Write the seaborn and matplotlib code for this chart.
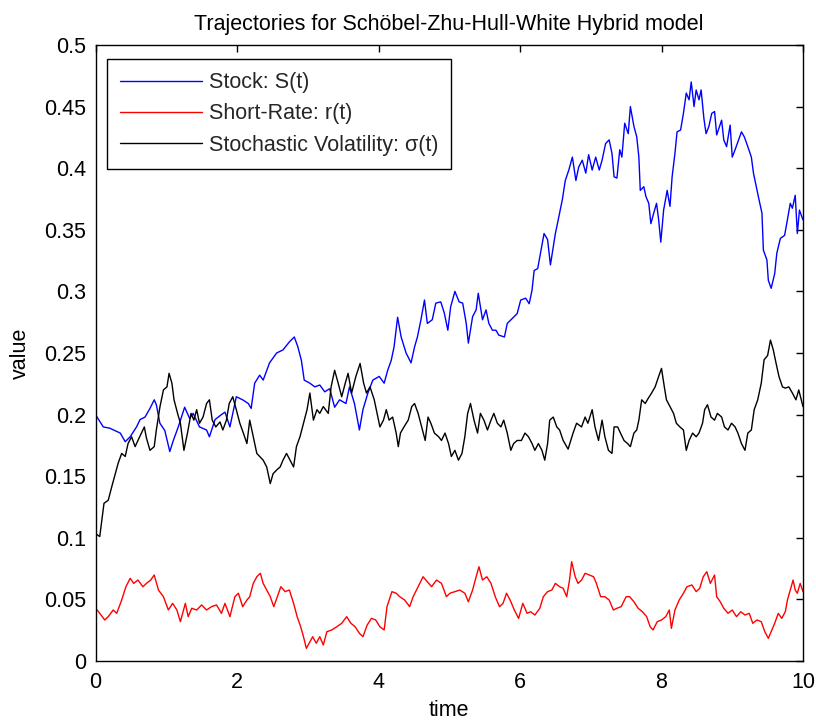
import numpy as np
import pandas as pd
import seaborn as sns
import matplotlib
matplotlib.use('Agg')
import matplotlib.pyplot as plt

# values
t_stock = [0.00, 0.11, 0.20, 0.35, 0.42, 0.49, 0.58, 0.63, 0.70, 0.77, 0.83, 0.86, 0.91, 0.98,
           1.05, 1.10, 1.17, 1.26, 1.33, 1.38, 1.47, 1.57, 1.61, 1.69, 1.78, 1.83, 1.90, 1.99,
           2.08, 2.16, 2.20, 2.25, 2.32, 2.37, 2.46, 2.56, 2.65, 2.74, 2.81, 2.86, 2.91, 2.95,
           3.03, 3.10, 3.17, 3.24, 3.31, 3.38, 3.45, 3.54, 3.59, 3.66, 3.73, 3.78, 3.85, 3.92,
           4.01, 4.08, 4.13, 4.18, 4.22, 4.27, 4.32, 4.39, 4.46, 4.51, 4.55, 4.60, 4.65, 4.69,
           4.76, 4.81, 4.88, 4.93, 4.98, 5.02, 5.08, 5.14, 5.19, 5.24, 5.27, 5.33, 5.38, 5.41,
           5.47, 5.52, 5.56, 5.61, 5.66, 5.70, 5.78, 5.82, 5.89, 5.96, 6.01, 6.08, 6.13, 6.17,
           6.20, 6.25, 6.29, 6.34, 6.39, 6.43, 6.47, 6.50, 6.54, 6.60, 6.64, 6.69, 6.74, 6.79,
           6.83, 6.88, 6.93, 6.97, 7.02, 7.07, 7.12, 7.16, 7.21, 7.26, 7.30, 7.33, 7.37, 7.41,
           7.44, 7.48, 7.53, 7.56, 7.61, 7.65, 7.68, 7.70, 7.75, 7.78, 7.82, 7.85, 7.89, 7.93,
           7.96, 7.99, 8.03, 8.08, 8.12, 8.15, 8.19, 8.22, 8.27, 8.31, 8.35, 8.39, 8.42, 8.46,
           8.49, 8.53, 8.56, 8.60, 8.63, 8.67, 8.71, 8.75, 8.78, 8.82, 8.85, 8.88, 8.92, 8.97,
           9.00, 9.04, 9.09, 9.13, 9.17, 9.22, 9.27, 9.30, 9.35, 9.38, 9.42, 9.44, 9.49, 9.51,
           9.55, 9.60, 9.63, 9.68, 9.74, 9.77, 9.82, 9.85, 9.89, 9.92, 9.95, 10.00]
stock = [0.200, 0.190, 0.189, 0.185, 0.178, 0.182, 0.190, 0.196, 0.198, 0.205, 0.212, 0.208, 0.193, 0.187,
         0.170, 0.179, 0.190, 0.206, 0.197, 0.201, 0.190, 0.1875, 0.182, 0.196, 0.200, 0.202, 0.190, 0.2145,
         0.212, 0.209, 0.205, 0.2255, 0.232, 0.228, 0.242, 0.250, 0.2525, 0.259, 0.263, 0.255, 0.244, 0.228,
         0.2255, 0.2225, 0.224, 0.2185, 0.221, 0.206, 0.212, 0.209, 0.2225, 0.209, 0.1875, 0.204, 0.2175, 0.228,
         0.231, 0.2255, 0.236, 0.244, 0.255, 0.279, 0.263, 0.250, 0.242, 0.255, 0.263, 0.277, 0.293, 0.274,
         0.277, 0.2905, 0.2915, 0.2825, 0.2685, 0.2875, 0.300, 0.2915, 0.2905, 0.274, 0.258, 0.2795, 0.285, 0.2985,
         0.277, 0.285, 0.274, 0.2685, 0.2685, 0.2645, 0.263, 0.274, 0.278, 0.282, 0.293, 0.2945, 0.290, 0.301,
         0.317, 0.3185, 0.331, 0.347, 0.342, 0.3215, 0.336, 0.347, 0.358, 0.375, 0.390, 0.3985, 0.409, 0.390,
         0.401, 0.4065, 0.396, 0.411, 0.3985, 0.409, 0.3985, 0.4065, 0.420, 0.423, 0.412, 0.393, 0.392, 0.415,
         0.409, 0.4365, 0.428, 0.450, 0.434, 0.4255, 0.409, 0.382, 0.385, 0.377, 0.3715, 0.355, 0.3635, 0.3715,
         0.358, 0.340, 0.366, 0.382, 0.369, 0.393, 0.412, 0.4295, 0.431, 0.4445, 0.461, 0.4555, 0.470, 0.450,
         0.4635, 0.4555, 0.4635, 0.440, 0.428, 0.434, 0.4445, 0.446, 0.427, 0.434, 0.439, 0.423, 0.4175, 0.435,
         0.409, 0.415, 0.423, 0.4295, 0.4255, 0.4175, 0.409, 0.396, 0.382, 0.374, 0.3635, 0.3335, 0.3255, 0.309,
         0.3025, 0.3145, 0.331, 0.343, 0.3455, 0.355, 0.3715, 0.3675, 0.378, 0.347, 0.366, 0.358]

t_rate = [0.00, 0.06, 0.13, 0.18, 0.25, 0.30, 0.37, 0.43, 0.49, 0.54, 0.60, 0.67, 0.72, 0.78, 0.83,
          0.89, 0.96, 1.03, 1.09, 1.15, 1.20, 1.27, 1.31, 1.36, 1.43, 1.50, 1.57, 1.64, 1.71, 1.78,
          1.83, 1.90, 1.97, 2.02, 2.08, 2.14, 2.18, 2.23, 2.28, 2.33, 2.37, 2.42, 2.47, 2.52, 2.57,
          2.62, 2.68, 2.74, 2.80, 2.85, 2.90, 2.94, 2.98, 3.02, 3.07, 3.12, 3.17, 3.22, 3.27, 3.34,
          3.41, 3.48, 3.55, 3.61, 3.67, 3.73, 3.78, 3.84, 3.90, 3.96, 4.02, 4.08, 4.12, 4.19, 4.25,
          4.30, 4.37, 4.44, 4.49, 4.56, 4.63, 4.69, 4.75, 4.82, 4.89, 4.96, 5.01, 5.08, 5.15, 5.22,
          5.27, 5.33, 5.38, 5.42, 5.47, 5.53, 5.59, 5.65, 5.71, 5.76, 5.81, 5.86, 5.92, 5.98, 6.04,
          6.10, 6.15, 6.21, 6.28, 6.33, 6.39, 6.45, 6.50, 6.56, 6.61, 6.66, 6.70, 6.73, 6.78, 6.82,
          6.87, 6.92, 6.98, 7.04, 7.08, 7.14, 7.20, 7.26, 7.32, 7.37, 7.43, 7.50, 7.55, 7.61, 7.67,
          7.73, 7.79, 7.84, 7.88, 7.94, 8.00, 8.06, 8.11, 8.14, 8.19, 8.25, 8.31, 8.36, 8.43, 8.49,
          8.54, 8.59, 8.64, 8.69, 8.75, 8.78, 8.83, 8.88, 8.94, 9.00, 9.06, 9.12, 9.18, 9.24, 9.29,
          9.35, 9.41, 9.46, 9.51, 9.56, 9.60, 9.65, 9.70, 9.75, 9.78, 9.82, 9.86, 9.89, 9.92, 9.96,
          10.00]
rate = [0.043, 0.0387, 0.0333, 0.036, 0.0414, 0.0387, 0.0495, 0.0603, 0.0671, 0.063, 0.0657, 0.0603, 0.063, 0.0657, 0.0698,
        0.0576, 0.0522, 0.0414, 0.0468, 0.0414, 0.0319, 0.0468, 0.036, 0.0428, 0.0414, 0.0455, 0.0414, 0.0441, 0.0455, 0.0387,
        0.0468, 0.036, 0.0522, 0.055, 0.0441, 0.0495, 0.0522, 0.063, 0.0684, 0.0712, 0.063, 0.0576, 0.0522, 0.0441, 0.0522,
        0.0603, 0.0563, 0.0576, 0.0468, 0.036, 0.0278, 0.0197, 0.0103, 0.0144, 0.0197, 0.0144, 0.0197, 0.013, 0.0238, 0.0252,
        0.0278, 0.0306, 0.036, 0.0306, 0.0278, 0.0225, 0.0197, 0.0292, 0.0346, 0.0333, 0.0278, 0.0252, 0.0441, 0.0563, 0.055,
        0.0522, 0.0495, 0.0441, 0.0522, 0.0603, 0.0684, 0.0644, 0.0603, 0.0657, 0.063, 0.0522, 0.055, 0.0563, 0.0576, 0.055,
        0.0481, 0.0576, 0.0684, 0.0765, 0.0657, 0.0684, 0.063, 0.0522, 0.0441, 0.0468, 0.055, 0.0495, 0.0414, 0.0346, 0.0468,
        0.0387, 0.040, 0.0373, 0.0428, 0.0522, 0.0563, 0.0576, 0.063, 0.0603, 0.059, 0.0522, 0.0657, 0.0806, 0.0684, 0.063,
        0.0657, 0.0712, 0.0698, 0.0684, 0.063, 0.0522, 0.0522, 0.0495, 0.0414, 0.0428, 0.0441, 0.0522, 0.0522, 0.0481, 0.0428,
        0.040, 0.036, 0.0278, 0.0252, 0.0319, 0.0333, 0.036, 0.0414, 0.0265, 0.0414, 0.0495, 0.055, 0.0603, 0.0617, 0.0563,
        0.059, 0.0684, 0.0725, 0.063, 0.0698, 0.0522, 0.0481, 0.0428, 0.0387, 0.0414, 0.036, 0.040, 0.0373, 0.0387, 0.0306,
        0.0333, 0.0319, 0.0238, 0.0184, 0.0252, 0.0306, 0.0387, 0.0346, 0.040, 0.0495, 0.0576, 0.0657, 0.0576, 0.055, 0.063,
        0.0563]

t_vol = [0.00, 0.06, 0.09, 0.12, 0.18, 0.23, 0.28, 0.32, 0.37, 0.42, 0.46, 0.51, 0.56, 0.60, 0.65,
         0.69, 0.72, 0.77, 0.83, 0.86, 0.91, 0.96, 1.01, 1.04, 1.08, 1.11, 1.16, 1.20, 1.25, 1.30,
         1.35, 1.39, 1.43, 1.47, 1.52, 1.57, 1.61, 1.65, 1.70, 1.76, 1.80, 1.85, 1.89, 1.94, 1.99,
         2.04, 2.09, 2.14, 2.18, 2.23, 2.28, 2.32, 2.37, 2.42, 2.47, 2.51, 2.56, 2.61, 2.65, 2.70,
         2.75, 2.80, 2.84, 2.89, 2.94, 2.99, 3.03, 3.08, 3.13, 3.17, 3.22, 3.29, 3.33, 3.38, 3.43,
         3.48, 3.53, 3.57, 3.62, 3.68, 3.74, 3.79, 3.83, 3.88, 3.94, 3.98, 4.02, 4.07, 4.11, 4.15,
         4.20, 4.25, 4.28, 4.31, 4.36, 4.42, 4.47, 4.51, 4.56, 4.61, 4.66, 4.70, 4.74, 4.79, 4.85,
         4.89, 4.94, 4.99, 5.03, 5.08, 5.13, 5.18, 5.22, 5.26, 5.30, 5.35, 5.40, 5.44, 5.49, 5.54,
         5.59, 5.63, 5.68, 5.73, 5.77, 5.82, 5.87, 5.91, 5.96, 6.02, 6.07, 6.12, 6.17, 6.21, 6.26,
         6.31, 6.35, 6.39, 6.42, 6.47, 6.52, 6.56, 6.61, 6.68, 6.75, 6.80, 6.87, 6.92, 6.96, 7.02,
         7.06, 7.11, 7.16, 7.20, 7.25, 7.30, 7.33, 7.38, 7.42, 7.47, 7.52, 7.56, 7.61, 7.65, 7.68,
         7.72, 7.77, 7.81, 7.86, 7.91, 7.96, 8.00, 8.04, 8.07, 8.12, 8.17, 8.21, 8.26, 8.31, 8.35,
         8.39, 8.44, 8.49, 8.53, 8.58, 8.61, 8.65, 8.70, 8.75, 8.79, 8.85, 8.89, 8.94, 8.99, 9.04,
         9.08, 9.13, 9.18, 9.22, 9.27, 9.31, 9.36, 9.41, 9.45, 9.50, 9.54, 9.58, 9.62, 9.66, 9.71,
         9.75, 9.80, 9.85, 9.90, 9.94, 10.00]
vol = [0.1035, 0.101, 0.1145, 0.128, 0.1305, 0.1415, 0.152, 0.1605, 0.1685, 0.166, 0.1765, 0.182, 0.174, 0.179, 0.185,
       0.190, 0.181, 0.171, 0.174, 0.1875, 0.206, 0.220, 0.2225, 0.2335, 0.2255, 0.212, 0.201, 0.193, 0.171, 0.185,
       0.201, 0.1955, 0.204, 0.193, 0.198, 0.209, 0.212, 0.1955, 0.190, 0.194, 0.1875, 0.1955, 0.209, 0.2145, 0.204,
       0.193, 0.185, 0.1765, 0.1955, 0.182, 0.1685, 0.166, 0.163, 0.1575, 0.144, 0.152, 0.155, 0.1575, 0.163, 0.1685,
       0.163, 0.1575, 0.174, 0.182, 0.193, 0.204, 0.2175, 0.1955, 0.204, 0.201, 0.2065, 0.201, 0.2225, 0.236, 0.2255,
       0.2145, 0.2255, 0.2335, 0.2175, 0.231, 0.2415, 0.2255, 0.2175, 0.2225, 0.212, 0.201, 0.190, 0.1955, 0.204, 0.1955,
       0.198, 0.185, 0.174, 0.185, 0.190, 0.1955, 0.2065, 0.209, 0.201, 0.190, 0.179, 0.198, 0.193, 0.185, 0.182,
       0.179, 0.185, 0.1765, 0.166, 0.171, 0.163, 0.1685, 0.182, 0.201, 0.209, 0.1955, 0.185, 0.201, 0.1955, 0.1875,
       0.1955, 0.201, 0.193, 0.190, 0.1955, 0.185, 0.171, 0.1765, 0.179, 0.179, 0.185, 0.182, 0.1765, 0.171, 0.1765,
       0.171, 0.163, 0.1765, 0.1955, 0.198, 0.190, 0.1875, 0.179, 0.172, 0.185, 0.193, 0.190, 0.198, 0.193, 0.204,
       0.190, 0.179, 0.1955, 0.182, 0.171, 0.1685, 0.190, 0.190, 0.185, 0.179, 0.1765, 0.174, 0.185, 0.1875, 0.1955,
       0.212, 0.209, 0.213, 0.2175, 0.2225, 0.231, 0.2375, 0.2225, 0.212, 0.2065, 0.201, 0.193, 0.190, 0.1875, 0.171,
       0.179, 0.185, 0.182, 0.185, 0.193, 0.204, 0.208, 0.198, 0.1955, 0.201, 0.198, 0.190, 0.1875, 0.193, 0.190,
       0.185, 0.1765, 0.171, 0.185, 0.1875, 0.204, 0.212, 0.2255, 0.2445, 0.248, 0.2605, 0.2525, 0.2415, 0.231, 0.2225,
       0.2215, 0.2225, 0.2175, 0.212, 0.220, 0.2065]

x_ticks = [0, 2, 4, 6, 8, 10]
y_ticks = [0, 0.05, 0.1, 0.15, 0.2, 0.25, 0.3, 0.35, 0.4, 0.45, 0.5]
y_tick_labels = ['0', '0.05', '0.1', '0.15', '0.2', '0.25', '0.3', '0.35', '0.4', '0.45', '0.5']

FS = 15.5

sns.set_theme(style='white')
plt.rcParams['font.family'] = ['Liberation Sans', 'DejaVu Sans']
plt.rcParams['axes.edgecolor'] = 'black'
plt.rcParams['axes.linewidth'] = 1.0

fig = plt.figure(figsize=(8.16, 7.24), dpi=100)
ax = fig.add_axes([95.5 / 816, 1 - 661 / 724, (803 - 95.5) / 816, (661 - 45) / 724])

series = [
    (t_stock, stock, 'blue', 'Stock: S(t)'),
    (t_rate, rate, 'red', 'Short-Rate: r(t)'),
    (t_vol, vol, 'black', 'Stochastic Volatility: \u03c3(t)'),
]
for tt, vv, col, lab in series:
    df = pd.DataFrame({'time': tt, 'value': vv})
    sns.lineplot(data=df, x='time', y='value', color=col, linewidth=1.0,
                 label=lab, ax=ax, estimator=None, sort=False)

ax.set_xlim(0, 10)
ax.set_ylim(0, 0.5)
ax.set_xticks(x_ticks)
ax.set_xticklabels([str(v) for v in x_ticks])
ax.set_yticks(y_ticks)
ax.set_yticklabels(y_tick_labels)
ax.tick_params(direction='in', top=True, right=True, length=5, width=1,
               colors='black', labelsize=FS)
ax.tick_params(axis='x', pad=8)
ax.tick_params(axis='y', pad=7)
for sp in ax.spines.values():
    sp.set_visible(True)
    sp.set_color('black')
    sp.set_linewidth(1.0)

ax.set_xlabel('time', fontsize=FS, color='black', labelpad=5)
ax.set_ylabel('value', fontsize=FS, color='black', labelpad=9)
ax.set_title('Trajectories for Sch\u00f6bel-Zhu-Hull-White Hybrid model', fontsize=FS,
             color='black', pad=11)

leg = ax.legend(loc='upper left', bbox_to_anchor=(0.0163, 0.977), borderaxespad=0,
                fontsize=FS, frameon=True, fancybox=False, framealpha=1, edgecolor='black',
                handlelength=3.8, handletextpad=0.33, labelspacing=0.48, borderpad=0.6)
leg.get_frame().set_linewidth(1.0)

fig.savefig('out.png', dpi=100)
